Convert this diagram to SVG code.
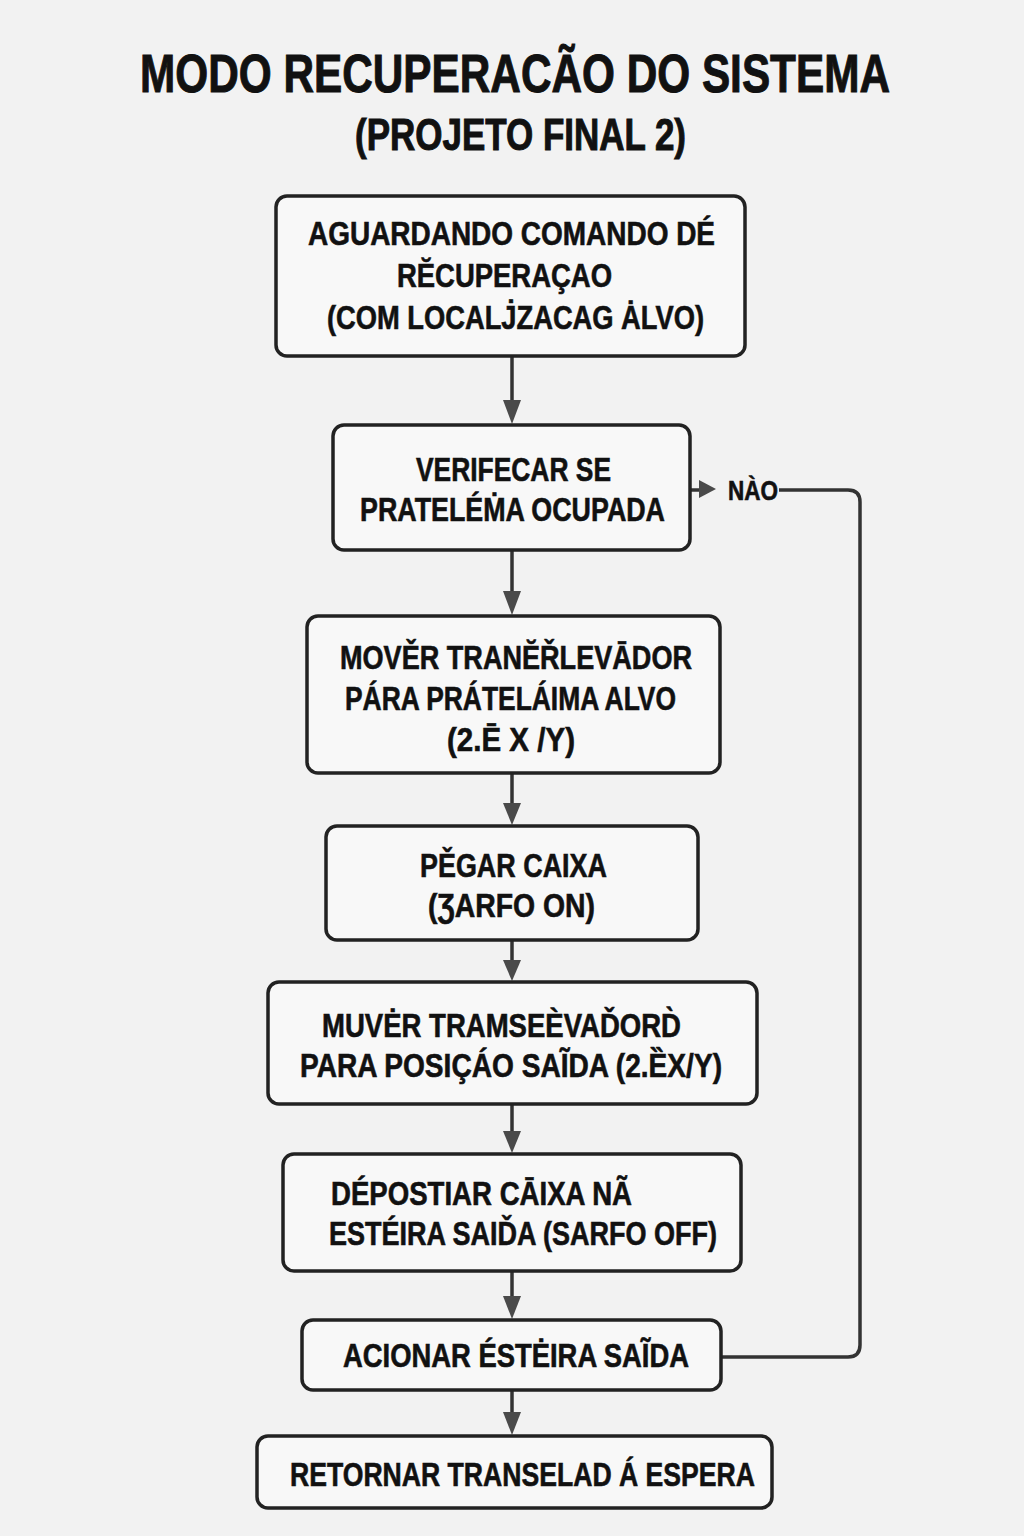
<svg xmlns="http://www.w3.org/2000/svg" width="1024" height="1536" viewBox="0 0 1024 1536">
<defs>
<style>
.bg{fill:#f2f2f2}
.box{fill:#f8f8f8;stroke:#222;stroke-width:3.5}
.t{font-family:"Liberation Sans",Arial,sans-serif;font-weight:bold;fill:#111;stroke:#111;stroke-width:0.6;text-anchor:start}
.tt{stroke-width:1}
.bt{font-size:33px}
.ln{fill:none;stroke:#333;stroke-width:3.5;stroke-linejoin:round}
.ah{fill:#4a4a4a}
</style>
</defs>
<rect class="bg" x="0" y="0" width="1024" height="1536"/>

<g id="title">
<text class="t tt" transform="scale(0.784,1)" x="178.6" y="92" font-size="54" textLength="956.6" lengthAdjust="spacingAndGlyphs">MODO RECUPERACÃO DO SISTEMA</text>
<text class="t tt" transform="scale(0.79,1)" x="449.4" y="150" font-size="44" textLength="419" lengthAdjust="spacingAndGlyphs">(PROJETO FINAL 2)</text>
</g>

<g id="connectors">
<line class="ln" x1="512" y1="356" x2="512" y2="403"/>
<path class="ah" d="M503,400 L521,400 L512,424 Z"/>
<line class="ln" x1="512" y1="550" x2="512" y2="594"/>
<path class="ah" d="M503,591 L521,591 L512,615 Z"/>
<line class="ln" x1="512" y1="773" x2="512" y2="806"/>
<path class="ah" d="M503,803 L521,803 L512,825 Z"/>
<line class="ln" x1="512" y1="940" x2="512" y2="962"/>
<path class="ah" d="M503,960 L521,960 L512,981 Z"/>
<line class="ln" x1="512" y1="1104" x2="512" y2="1133"/>
<path class="ah" d="M503,1131 L521,1131 L512,1153 Z"/>
<line class="ln" x1="512" y1="1271" x2="512" y2="1298"/>
<path class="ah" d="M503,1296 L521,1296 L512,1319 Z"/>
<line class="ln" x1="512" y1="1390" x2="512" y2="1414"/>
<path class="ah" d="M503,1412 L521,1412 L512,1435 Z"/>
<line class="ln" x1="690" y1="490" x2="702" y2="490"/>
<path class="ah" d="M699,480 L716,489 L699,498 Z"/>
<path class="ln" d="M779,490 L848,490 Q860,490 860,502 L860,1345 Q860,1357 848,1357 L722,1357"/>
<text class="t" x="728" y="500" font-size="27" textLength="50" lengthAdjust="spacingAndGlyphs">NÀO</text>
</g>

<g id="n1">
<rect class="box" x="276" y="196" width="469" height="160" rx="11"/>
<text class="t bt" x="308" y="245" textLength="407" lengthAdjust="spacingAndGlyphs">AGUARDANDO COMANDO DÉ</text>
<text class="t bt" x="397" y="287" textLength="215" lengthAdjust="spacingAndGlyphs">RĔCUPERAÇAO</text>
<text class="t bt" x="327" y="329" textLength="377" lengthAdjust="spacingAndGlyphs">(COM LOCALJ̇ZACAG ȦLVO)</text>
</g>

<g id="n2">
<rect class="box" x="333" y="425" width="357" height="125" rx="11"/>
<text class="t bt" x="416" y="481" textLength="195" lengthAdjust="spacingAndGlyphs">VERIFECAR SE</text>
<text class="t bt" x="360" y="521" textLength="305" lengthAdjust="spacingAndGlyphs">PRATELÉṀA OCUPADA</text>
</g>

<g id="n3">
<rect class="box" x="307" y="616" width="413" height="157" rx="11"/>
<text class="t bt" x="340" y="669" textLength="352" lengthAdjust="spacingAndGlyphs">MOVĚR TRANĔŘLEVĀDOR</text>
<text class="t bt" x="345" y="710" textLength="331" lengthAdjust="spacingAndGlyphs">PÁRA PRÁTELÁIMA ALVO</text>
<text class="t bt" x="447" y="751" textLength="128" lengthAdjust="spacingAndGlyphs">(2.Ē X /Y)</text>
</g>

<g id="n4">
<rect class="box" x="326" y="826" width="372" height="114" rx="11"/>
<text class="t bt" x="420" y="877" textLength="187" lengthAdjust="spacingAndGlyphs">PĚGAR CAIXA</text>
<text class="t bt" x="428" y="917" textLength="167" lengthAdjust="spacingAndGlyphs">(ƷARFO ON)</text>
</g>

<g id="n5">
<rect class="box" x="268" y="982" width="489" height="122" rx="11"/>
<text class="t bt" x="322" y="1037" textLength="359" lengthAdjust="spacingAndGlyphs">MUVĖR TRAMSEÈVAĎORD̀</text>
<text class="t bt" x="300" y="1077" textLength="422" lengthAdjust="spacingAndGlyphs">PARA POSIÇÁO SAĨDA (2.ȄX/Y)</text>
</g>

<g id="n6">
<rect class="box" x="283" y="1154" width="458" height="117" rx="11"/>
<text class="t bt" x="331" y="1205" textLength="301" lengthAdjust="spacingAndGlyphs">DÉPOSTIAR CĀIXA NÃ</text>
<text class="t bt" x="329" y="1245" textLength="388" lengthAdjust="spacingAndGlyphs">ESTÉIRA SAIĎA (SARFO OFF)</text>
</g>

<g id="n7">
<rect class="box" x="302" y="1320" width="419" height="70" rx="11"/>
<text class="t bt" x="343" y="1367" textLength="346" lengthAdjust="spacingAndGlyphs">ACIONAR ÉSTĖIRA SAĨDA</text>
</g>

<g id="n8">
<rect class="box" x="257" y="1436" width="515" height="72" rx="11"/>
<text class="t bt" x="290" y="1486" textLength="465" lengthAdjust="spacingAndGlyphs">RETORNAR TRANSELAD Á ESPERA</text>
</g>
</svg>
